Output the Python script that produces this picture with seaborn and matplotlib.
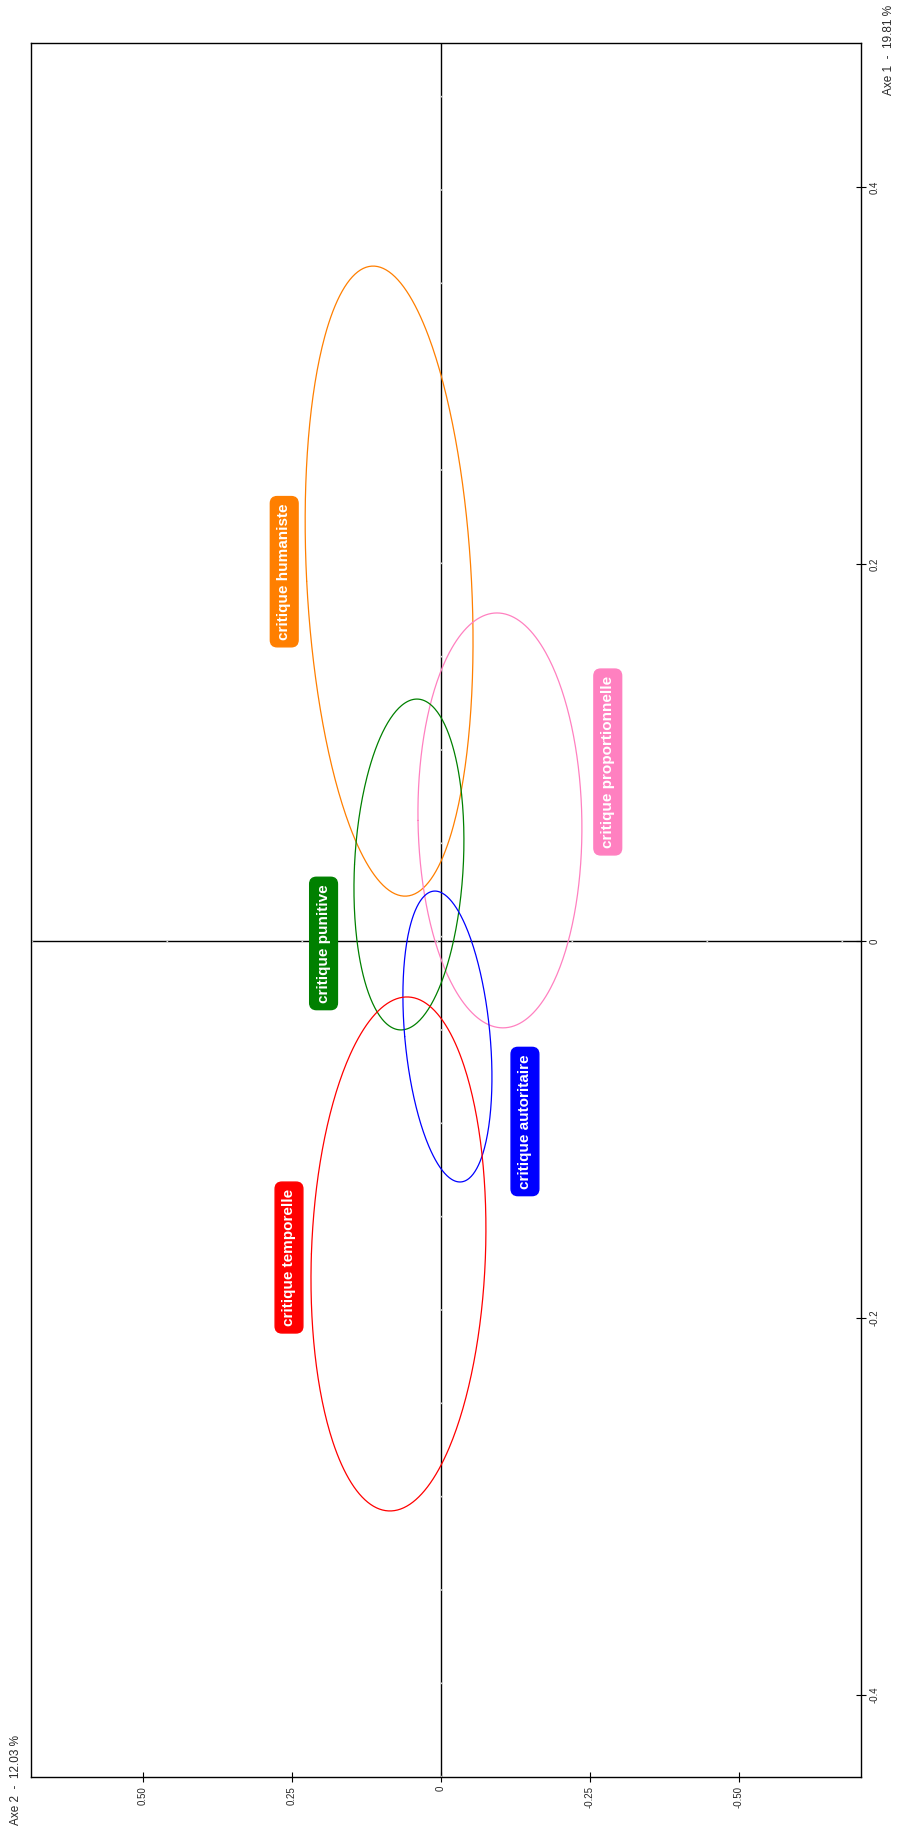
import numpy as np
import pandas as pd
import matplotlib
matplotlib.use("Agg")
import matplotlib.pyplot as plt
import seaborn as sns

# ---- data -------------------------------------------------------------
groups = ["critique humaniste", "critique proportionnelle", "critique punitive",
          "critique autoritaire", "critique temporelle"]
colors = ["#FF7F00", "#FF80C0", "#008000", "#0000FF", "#FF0000"]
# ellipse centres (Axe 1, Axe 2)
center_axe1 = [0.191, 0.064, 0.0406, -0.0507, -0.1661]
center_axe2 = [0.087, -0.099, 0.0537, -0.0109, 0.0713]
# ellipse half-extent along Axe 1, half-width along Axe 2, tilt (Axe 2 shift at top)
half_axe1 = [0.1672, 0.1101, 0.0878, 0.0772, 0.1364]
half_axe2 = [0.1383, 0.1375, 0.0913, 0.0717, 0.1461]
tilt_axe2 = [0.0268, 0.005, -0.0134, 0.021, -0.0143]
# label positions (Axe 1, Axe 2)
label_axe1 = [0.196, 0.095, -0.0013, -0.0958, -0.168]
label_axe2 = [0.263, -0.280, 0.197, -0.141, 0.255]

axe1_ticks = [-0.4, -0.2, 0, 0.2, 0.4]
axe1_ticklabels = ["-0.4", "-0.2", "0", "0.2", "0.4"]
axe2_ticks = [0.5, 0.25, 0, -0.25, -0.5]
axe2_ticklabels = ["0.50", "0.25", "0", "-0.25", "-0.50"]
axe1_title = "Axe 1  -  19.81 %"
axe2_title = "Axe 2  -  12.03 %"

# ---- build ellipse outlines -----------------------------------------
t = np.linspace(0, 2 * np.pi, 361)
rows = []
for g, c1, c2, h1, h2, s in zip(groups, center_axe1, center_axe2, half_axe1, half_axe2, tilt_axe2):
    a1 = c1 + h1 * np.sin(t)
    a2 = c2 + h2 * np.cos(t) + s * np.sin(t)
    for i, (p1, p2) in enumerate(zip(a1, a2)):
        rows.append({"group": g, "order": i, "axe1": p1, "axe2": p2})
df = pd.DataFrame(rows)

# ---- figure -------------------------------------------------------------
sns.set_theme(style="white")
plt.rcParams["font.family"] = ["Liberation Sans", "DejaVu Sans"]

fig = plt.figure(figsize=(8.98, 18.27), dpi=100)
ax = fig.add_axes([31 / 898, 50 / 1827, 830 / 898, 1734 / 1827])

ax.set_xlim(0.688, -0.705)
ax.set_ylim(-0.4437, 0.4766)

# zero lines
ax.axvline(0, color="black", lw=1.0, zorder=1)
ax.axhline(0, color="black", lw=1.0, zorder=1)
ax.axvline(0, color="white", lw=0.6, dashes=(2, 110), zorder=1.5)
ax.axhline(0, color="white", lw=0.6, dashes=(2, 160), zorder=1.5)

sns.lineplot(data=df, x="axe2", y="axe1", hue="group", hue_order=groups,
             palette=dict(zip(groups, colors)), sort=False, estimator=None,
             units="group", legend=False, lw=0.9, ax=ax, zorder=3)

for g, col, l1, l2 in zip(groups, colors, label_axe1, label_axe2):
    ax.text(l2, l1, g, rotation=90, ha="center", va="center", color="white",
            fontsize=11, fontweight="bold", zorder=5,
            bbox=dict(boxstyle="round,pad=0.45,rounding_size=0.45",
                      facecolor=col, edgecolor=col))

# axes styling
for side in ["left", "right", "top", "bottom"]:
    ax.spines[side].set_visible(True)
    ax.spines[side].set_color("black")
    ax.spines[side].set_linewidth(1.0)

ax.set_xticks(axe2_ticks)
ax.set_xticklabels(axe2_ticklabels, rotation=90, fontsize=7)
ax.yaxis.tick_right()
ax.set_yticks(axe1_ticks)
ax.set_yticklabels(axe1_ticklabels, rotation=90, fontsize=7, va="center")
ax.tick_params(axis="both", direction="inout", length=7, width=0.8,
               color="black", pad=3, bottom=True, right=True, left=False, top=False)
ax.set_xlabel("")
ax.set_ylabel("")
ax.grid(False)

fig.text(889 / 898, 1 - 5 / 1827, axe1_title, rotation=90, ha="center", va="top", fontsize=8.5)
fig.text(16 / 898, 2 / 1827, axe2_title, rotation=90, ha="center", va="bottom", fontsize=8.5)

fig.savefig("out.png", dpi=100, facecolor="white")
